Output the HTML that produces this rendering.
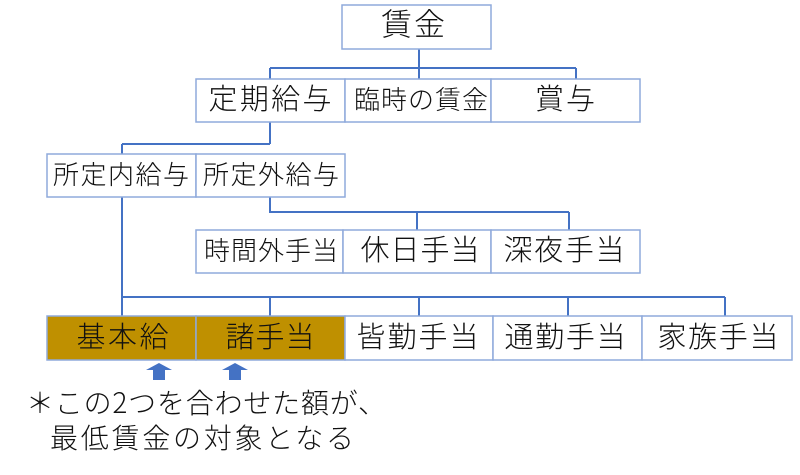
<!DOCTYPE html>
<html><head><meta charset="utf-8"><style>
html,body{margin:0;padding:0;background:#fff;}
svg{display:block;}
text{font-family:"Liberation Sans","Noto Sans CJK JP",sans-serif;fill:#111;font-weight:300;}
text.cjk{font-family:"Noto Sans CJK JP","Liberation Sans",sans-serif;}
</style></head><body>
<svg width="800" height="475" viewBox="0 0 800 475" xmlns="http://www.w3.org/2000/svg">
<g fill="none" stroke="#4472C4" stroke-width="2">
<path d="M419 49V68M270 68H576M270 68V79M419 68V79M576 68V79"/>
<path d="M270 122V144M122 144H270M122 144V154"/>
<path d="M270 197V212H569M417 212V230M569 212V230"/>
<path d="M122 197V316M122 297H725M270 297V316M419 297V316M568 297V316M725 297V316"/>
</g>
<g stroke="#8FAADC" stroke-width="1.5">
<rect x="342" y="5" width="149" height="44" fill="#fff"/>
<rect x="196" y="79" width="149" height="43" fill="#fff"/>
<rect x="345" y="79" width="146" height="43" fill="#fff"/>
<rect x="491" y="79" width="149" height="43" fill="#fff"/>
<rect x="47" y="154" width="149" height="43" fill="#fff"/>
<rect x="196" y="154" width="149" height="43" fill="#fff"/>
<rect x="196" y="230" width="147" height="43" fill="#fff"/>
<rect x="343" y="230" width="148" height="43" fill="#fff"/>
<rect x="491" y="230" width="149" height="43" fill="#fff"/>
<rect x="47" y="316" width="149" height="44" fill="#BF9000"/>
<rect x="196" y="316" width="149" height="44" fill="#BF9000"/>
<rect x="345" y="316" width="148" height="44" fill="#fff"/>
<rect x="493" y="316" width="149" height="44" fill="#fff"/>
<rect x="642" y="316" width="150" height="44" fill="#fff"/>
</g>
<g text-anchor="middle" dominant-baseline="central">
<text x="413" y="25" font-size="31" textLength="64" lengthAdjust="spacing">賃金</text>
<text x="270" y="100" font-size="29" textLength="123" lengthAdjust="spacing">定期給与</text>
<text x="421" y="100" font-size="26" textLength="134" lengthAdjust="spacing">臨時の賃金</text>
<text x="565" y="100" font-size="29" textLength="60" lengthAdjust="spacing">賞与</text>
<text x="121" y="175" font-size="26" textLength="136" lengthAdjust="spacing">所定内給与</text>
<text x="271" y="175" font-size="26" textLength="136" lengthAdjust="spacing">所定外給与</text>
<text x="271" y="251" font-size="26" textLength="134" lengthAdjust="spacing">時間外手当</text>
<text x="420" y="251" font-size="29" textLength="119" lengthAdjust="spacing">休日手当</text>
<text x="564" y="251" font-size="29" textLength="121" lengthAdjust="spacing">深夜手当</text>
<text x="122.5" y="338" font-size="29" textLength="92" lengthAdjust="spacing">基本給</text>
<text x="270" y="338" font-size="29" textLength="89" lengthAdjust="spacing">諸手当</text>
<text x="417.5" y="338" font-size="29" textLength="122" lengthAdjust="spacing">皆勤手当</text>
<text x="565" y="338" font-size="29" textLength="121" lengthAdjust="spacing">通勤手当</text>
<text x="718" y="338" font-size="29" textLength="121" lengthAdjust="spacing">家族手当</text>
</g>
<g fill="#4472C4">
<polygon points="146,370 159,363 172,370 165,370 165,380 153,380 153,370"/>
<polygon points="222,370 235,363 248,370 241,370 241,380 229,380 229,370"/>
</g>
<text class="cjk" x="26" y="402" font-size="28" dominant-baseline="central" textLength="360" lengthAdjust="spacing">＊この2つを合わせた額が、</text>
<text class="cjk" x="50" y="437" font-size="28" dominant-baseline="central" textLength="304" lengthAdjust="spacing">最低賃金の対象となる</text>
</svg>
</body></html>
